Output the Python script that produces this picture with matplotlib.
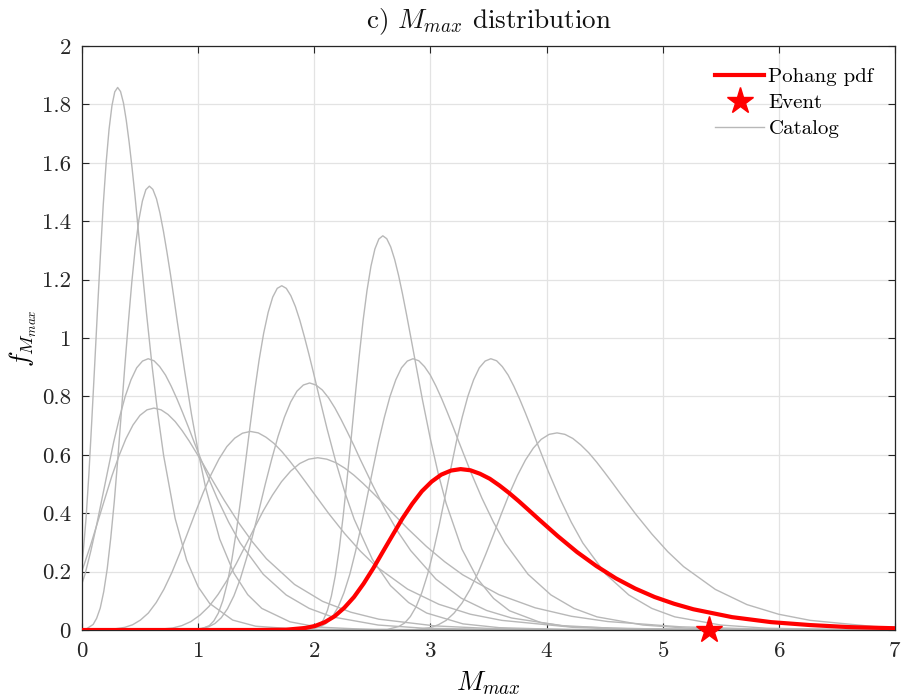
import matplotlib

matplotlib.use("Agg")
import matplotlib.pyplot as plt
import numpy as np

plt.rcParams["font.family"] = "cmr10"
plt.rcParams["mathtext.fontset"] = "cm"
plt.rcParams["axes.formatter.use_mathtext"] = True

# Mmax pdfs of the catalog sites (magnitude, density)
cat1_m = [0.000, 0.035, 0.060, 0.084, 0.109, 0.134, 0.159, 0.183, 0.208, 0.233, 0.258, 0.282,
          0.307, 0.332, 0.357, 0.381, 0.406, 0.431, 0.456, 0.480, 0.505, 0.555, 0.604, 0.654,
          0.703, 0.802, 0.901, 1.000, 1.099, 1.297, 1.495, 1.891, 7.000]
cat1_f = [0.217, 0.383, 0.538, 0.715, 0.906, 1.101, 1.287, 1.457, 1.601, 1.715, 1.796, 1.843,
          1.858, 1.844, 1.805, 1.746, 1.670, 1.583, 1.488, 1.388, 1.286, 1.086, 0.902, 0.737,
          0.597, 0.382, 0.239, 0.148, 0.091, 0.034, 0.013, 0.002, 0.0]

cat2_m = [0.000, 0.035, 0.096, 0.126, 0.157, 0.187, 0.217, 0.247, 0.278, 0.308, 0.338, 0.368,
          0.399, 0.429, 0.459, 0.489, 0.520, 0.550, 0.580, 0.610, 0.641, 0.671, 0.701, 0.731,
          0.762, 0.792, 0.822, 0.883, 0.943, 1.004, 1.064, 1.185, 1.306, 1.427, 1.548, 1.790,
          2.032, 2.516, 7.000]
cat2_f = [0.001, 0.003, 0.019, 0.040, 0.075, 0.131, 0.209, 0.313, 0.440, 0.585, 0.741, 0.900,
          1.053, 1.192, 1.310, 1.403, 1.469, 1.508, 1.520, 1.509, 1.477, 1.428, 1.366, 1.295,
          1.217, 1.135, 1.052, 0.889, 0.738, 0.603, 0.488, 0.312, 0.196, 0.121, 0.074, 0.028,
          0.010, 0.001, 0.0]

cat3_m = [0.000, 0.026, 0.075, 0.125, 0.174, 0.224, 0.273, 0.323, 0.372, 0.422, 0.471, 0.521,
          0.570, 0.620, 0.669, 0.719, 0.768, 0.818, 0.867, 0.917, 0.966, 1.065, 1.164, 1.263,
          1.362, 1.560, 1.758, 1.956, 2.154, 2.550, 2.946, 3.738, 7.000]
cat3_f = [0.159, 0.191, 0.269, 0.358, 0.453, 0.550, 0.644, 0.728, 0.800, 0.857, 0.898, 0.921,
          0.929, 0.922, 0.902, 0.873, 0.835, 0.791, 0.744, 0.694, 0.643, 0.543, 0.451, 0.369,
          0.298, 0.191, 0.120, 0.074, 0.045, 0.017, 0.006, 0.001, 0.0]

cat4_m = [0.000, 0.015, 0.076, 0.136, 0.197, 0.257, 0.318, 0.378, 0.439, 0.499, 0.560, 0.620,
          0.681, 0.741, 0.802, 0.862, 0.923, 0.983, 1.044, 1.104, 1.225, 1.346, 1.467, 1.588,
          1.830, 2.072, 2.314, 2.556, 3.040, 3.524, 4.492, 7.000]
cat4_f = [0.203, 0.220, 0.293, 0.371, 0.450, 0.527, 0.596, 0.655, 0.702, 0.735, 0.754, 0.760,
          0.754, 0.738, 0.714, 0.683, 0.647, 0.608, 0.568, 0.526, 0.444, 0.369, 0.302, 0.244,
          0.156, 0.098, 0.061, 0.037, 0.014, 0.005, 0.001, 0.0]

cat5_m = [0.000, 0.233, 0.368, 0.436, 0.503, 0.571, 0.639, 0.706, 0.774, 0.841, 0.909, 0.977,
          1.044, 1.112, 1.180, 1.247, 1.315, 1.382, 1.450, 1.518, 1.585, 1.653, 1.721, 1.788,
          1.856, 1.923, 1.991, 2.126, 2.262, 2.397, 2.532, 2.803, 3.073, 3.344, 3.614, 4.155,
          4.696, 5.778, 7.000]
cat5_f = [0.0, 0.001, 0.009, 0.018, 0.034, 0.058, 0.094, 0.140, 0.197, 0.262, 0.332, 0.403,
          0.471, 0.533, 0.586, 0.628, 0.657, 0.674, 0.680, 0.675, 0.660, 0.639, 0.611, 0.579,
          0.544, 0.508, 0.471, 0.398, 0.330, 0.270, 0.218, 0.140, 0.088, 0.054, 0.033, 0.012,
          0.005, 0.001, 0.0]

cat6_m = [0.000, 0.626, 0.782, 0.860, 0.938, 1.016, 1.094, 1.172, 1.250, 1.328, 1.406, 1.484,
          1.562, 1.640, 1.718, 1.796, 1.874, 1.952, 2.030, 2.108, 2.186, 2.264, 2.342, 2.420,
          2.498, 2.576, 2.654, 2.810, 2.966, 3.122, 3.278, 3.590, 3.902, 4.214, 4.526, 5.150,
          5.774, 7.000]
cat6_f = [0.0, 0.001, 0.007, 0.015, 0.029, 0.051, 0.081, 0.122, 0.171, 0.227, 0.288, 0.349,
          0.409, 0.462, 0.508, 0.544, 0.570, 0.585, 0.590, 0.585, 0.573, 0.554, 0.530, 0.502,
          0.472, 0.441, 0.408, 0.345, 0.286, 0.234, 0.189, 0.121, 0.076, 0.047, 0.029, 0.011,
          0.004, 0.001]

cat7_m = [0.000, 1.018, 1.096, 1.135, 1.174, 1.213, 1.252, 1.291, 1.330, 1.369, 1.408, 1.447,
          1.486, 1.525, 1.564, 1.603, 1.642, 1.681, 1.720, 1.759, 1.798, 1.837, 1.876, 1.915,
          1.954, 1.993, 2.032, 2.110, 2.188, 2.266, 2.344, 2.500, 2.656, 2.812, 2.968, 3.280,
          3.592, 4.216, 7.000]
cat7_f = [0.0, 0.002, 0.015, 0.031, 0.058, 0.101, 0.162, 0.243, 0.341, 0.454, 0.575, 0.698,
          0.817, 0.925, 1.016, 1.088, 1.140, 1.170, 1.179, 1.170, 1.145, 1.108, 1.060, 1.004,
          0.944, 0.881, 0.816, 0.689, 0.572, 0.468, 0.379, 0.242, 0.152, 0.094, 0.058, 0.021,
          0.008, 0.001, 0.0]

cat8_m = [0.000, 0.981, 1.090, 1.144, 1.199, 1.253, 1.308, 1.362, 1.416, 1.471, 1.525, 1.579,
          1.634, 1.688, 1.743, 1.797, 1.851, 1.906, 1.960, 2.014, 2.069, 2.123, 2.178, 2.232,
          2.286, 2.341, 2.395, 2.504, 2.613, 2.721, 2.830, 3.048, 3.265, 3.483, 3.700, 4.135,
          4.570, 5.440, 7.000]
cat8_f = [0.0, 0.002, 0.011, 0.022, 0.042, 0.073, 0.117, 0.174, 0.245, 0.326, 0.412, 0.501,
          0.586, 0.663, 0.729, 0.781, 0.818, 0.839, 0.846, 0.839, 0.822, 0.795, 0.760, 0.720,
          0.677, 0.632, 0.585, 0.495, 0.410, 0.336, 0.272, 0.174, 0.109, 0.067, 0.041, 0.015,
          0.006, 0.001, 0.0]

cat9_m = [0.000, 1.977, 2.045, 2.079, 2.113, 2.147, 2.181, 2.215, 2.249, 2.283, 2.318, 2.352,
          2.386, 2.420, 2.454, 2.488, 2.522, 2.556, 2.590, 2.624, 2.658, 2.692, 2.726, 2.760,
          2.794, 2.828, 2.863, 2.931, 2.999, 3.067, 3.135, 3.271, 3.408, 3.544, 3.680, 3.953,
          4.225, 4.770, 7.000]
cat9_f = [0.0, 0.003, 0.017, 0.035, 0.067, 0.116, 0.186, 0.278, 0.391, 0.520, 0.658, 0.800,
          0.935, 1.059, 1.163, 1.246, 1.305, 1.339, 1.350, 1.340, 1.312, 1.269, 1.214, 1.150,
          1.081, 1.009, 0.934, 0.789, 0.655, 0.536, 0.434, 0.277, 0.174, 0.108, 0.066, 0.025,
          0.009, 0.001, 0.0]

cat10_m = [0.000, 1.959, 2.058, 2.108, 2.157, 2.207, 2.256, 2.306, 2.355, 2.405, 2.454, 2.504,
           2.553, 2.603, 2.652, 2.702, 2.751, 2.801, 2.850, 2.900, 2.949, 2.999, 3.048, 3.098,
           3.147, 3.197, 3.246, 3.345, 3.444, 3.543, 3.642, 3.840, 4.038, 4.236, 4.434, 4.830,
           5.226, 6.018, 7.000]
cat10_f = [0.0, 0.002, 0.012, 0.024, 0.046, 0.080, 0.128, 0.191, 0.269, 0.358, 0.453, 0.550,
           0.644, 0.728, 0.800, 0.857, 0.898, 0.921, 0.929, 0.922, 0.902, 0.873, 0.835, 0.791,
           0.744, 0.694, 0.643, 0.543, 0.451, 0.369, 0.298, 0.191, 0.120, 0.074, 0.045, 0.017,
           0.006, 0.001, 0.0]

cat11_m = [0.000, 2.629, 2.728, 2.778, 2.827, 2.877, 2.926, 2.976, 3.025, 3.075, 3.124, 3.174,
           3.223, 3.273, 3.322, 3.372, 3.421, 3.471, 3.520, 3.570, 3.619, 3.669, 3.718, 3.768,
           3.817, 3.867, 3.916, 4.015, 4.114, 4.213, 4.312, 4.510, 4.708, 4.906, 5.104, 5.500,
           5.896, 6.688, 7.000]
cat11_f = [0.0, 0.002, 0.012, 0.024, 0.046, 0.080, 0.128, 0.191, 0.269, 0.358, 0.453, 0.550,
           0.644, 0.728, 0.800, 0.857, 0.898, 0.921, 0.929, 0.922, 0.902, 0.873, 0.835, 0.791,
           0.744, 0.694, 0.643, 0.543, 0.451, 0.369, 0.298, 0.191, 0.120, 0.074, 0.045, 0.017,
           0.006, 0.001, 0.0]

cat12_m = [0.000, 2.864, 3.000, 3.068, 3.136, 3.204, 3.273, 3.341, 3.409, 3.477, 3.545, 3.613,
           3.681, 3.749, 3.818, 3.886, 3.954, 4.022, 4.090, 4.158, 4.226, 4.294, 4.363, 4.431,
           4.499, 4.567, 4.635, 4.771, 4.908, 5.044, 5.180, 5.453, 5.725, 5.998, 6.270, 6.815,
           7.000]
cat12_f = [0.0, 0.001, 0.008, 0.018, 0.033, 0.058, 0.093, 0.139, 0.195, 0.260, 0.329, 0.400,
           0.468, 0.529, 0.582, 0.623, 0.653, 0.670, 0.675, 0.670, 0.656, 0.634, 0.607, 0.575,
           0.540, 0.504, 0.467, 0.395, 0.328, 0.268, 0.217, 0.139, 0.087, 0.054, 0.033, 0.012,
           0.009]

# Pohang Mmax pdf
pohang_m = [0.000, 1.500, 1.757, 1.924, 2.008, 2.091, 2.175, 2.258, 2.342, 2.425, 2.509, 2.592,
            2.676, 2.759, 2.843, 2.926, 3.010, 3.093, 3.177, 3.260, 3.344, 3.427, 3.511, 3.594,
            3.678, 3.761, 3.845, 3.928, 4.095, 4.262, 4.429, 4.596, 4.763, 4.930, 5.097, 5.264,
            5.598, 5.932, 6.266, 6.600, 7.000]
pohang_f = [0.0, 0.0, 0.001, 0.007, 0.014, 0.027, 0.047, 0.076, 0.113, 0.159, 0.212, 0.269,
            0.326, 0.382, 0.432, 0.475, 0.508, 0.532, 0.546, 0.551, 0.547, 0.535, 0.518, 0.495,
            0.469, 0.441, 0.411, 0.381, 0.322, 0.267, 0.219, 0.177, 0.142, 0.113, 0.090, 0.071,
            0.044, 0.027, 0.017, 0.010, 0.006]

# observed Pohang event
event_m = 5.4
event_f = 0.0

catalog = [
    (cat1_m, cat1_f), (cat2_m, cat2_f), (cat3_m, cat3_f), (cat4_m, cat4_f),
    (cat5_m, cat5_f), (cat6_m, cat6_f), (cat7_m, cat7_f), (cat8_m, cat8_f),
    (cat9_m, cat9_f), (cat10_m, cat10_f), (cat11_m, cat11_f), (cat12_m, cat12_f),
]

fig = plt.figure(figsize=(9.05, 6.98), dpi=100)
ax = fig.add_axes([82 / 905, 68 / 698, 813 / 905, 584 / 698])

grey = "#b8b8b8"
for i, (m, f) in enumerate(catalog):
    ax.plot(m, f, color=grey, lw=1.0, label="Catalog" if i == 0 else None, zorder=2)

ax.plot(pohang_m, pohang_f, color="#ff0000", lw=3.0, label="Pohang pdf", zorder=4)
ax.plot([event_m], [event_f], ls="none", marker="*", ms=20, color="#ff0000",
        label="Event", clip_on=False, zorder=5)

ax.set_xlim(0, 7)
ax.set_ylim(0, 2)
ax.set_xticks(np.arange(0, 8, 1))
yt = np.round(np.arange(0, 2.01, 0.2), 1)
ax.set_yticks(yt)
ax.set_yticklabels([f"{v:g}" for v in yt])

ax.grid(True, color="#e3e3e3", lw=0.9)
ax.set_axisbelow(True)
for s in ax.spines.values():
    s.set_color("#262626")
    s.set_linewidth(0.9)
ax.tick_params(direction="in", length=5, width=0.8, colors="#262626",
               top=True, right=True, labelsize=16.5, pad=8)

ax.set_title(r"c) $M_{max}$ distribution", fontsize=19.5, pad=13, color="#111111")
ax.set_xlabel(r"$M_{max}$", fontsize=19.5, labelpad=6)
ax.set_ylabel(r"$f_{M_{max}}$", fontsize=19, labelpad=2)

# legend order: Pohang pdf, Event, Catalog
h, l = ax.get_legend_handles_labels()
order = [l.index("Pohang pdf"), l.index("Event"), l.index("Catalog")]
ax.legend([h[k] for k in order], [l[k] for k in order], loc="upper left",
          bbox_to_anchor=(707 / 905, 1 - 59 / 698), bbox_transform=fig.transFigure,
          frameon=False, fontsize=15, handlelength=2.35, handletextpad=0.2,
          labelspacing=0.36, borderaxespad=0.0, borderpad=0.4)

fig.savefig("out.png", dpi=100)
